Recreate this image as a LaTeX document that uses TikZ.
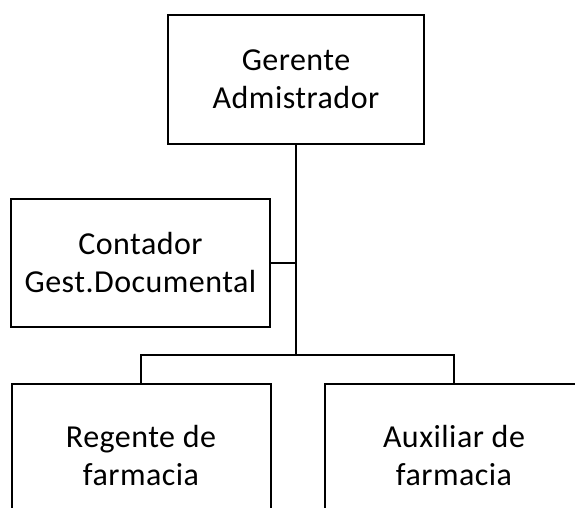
\documentclass[tikz,border=0pt]{standalone}
\usepackage{fontspec}
\setmainfont{Carlito}[LetterSpace=1.5]
\begin{document}
\begin{tikzpicture}[x=1pt, y=-1pt,
        caja/.style = {draw, line width=2pt, align=center, inner sep=0pt,
                       font=\fontsize{32}{38}\selectfont},
        linea/.style = {line width=2.6pt}]
    \clip (0,0) rectangle (575,508);
    % cajas
    \node[caja, minimum width=256pt, minimum height=129pt] (gerente) at (296,79.5) {Gerente\\Admistrador};
    \node[caja, minimum width=259pt, minimum height=128pt] (contador) at (140.5,263) {Contador\\Gest.Documental};
    \node[caja, minimum width=259pt, minimum height=144pt] (regente) at (141,456) {Regente de\\farmacia};
    \node[caja, minimum width=259pt, minimum height=144pt] (auxiliar) at (454,456) {Auxiliar de\\farmacia};
    % conectores
    \coordinate (rama) at (296,355);
    \draw[linea] (gerente.south) -- (rama);
    \draw[line width=2pt] (contador.east) -- (contador.east -| rama);
    \draw[linea] (regente.north) |- (rama) -| (auxiliar.north);
\end{tikzpicture}
\end{document}
